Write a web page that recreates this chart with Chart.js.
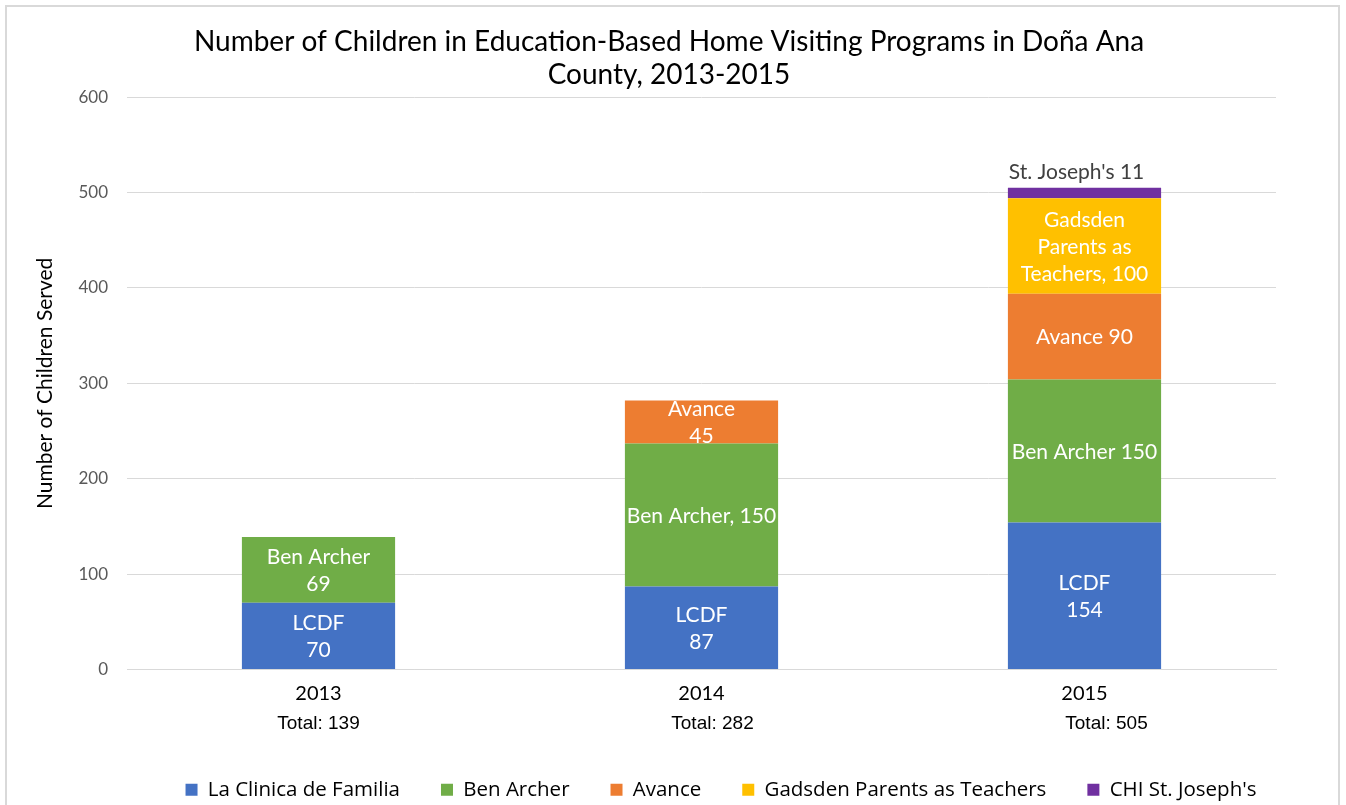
<!DOCTYPE html>
<html>
<head>
<meta charset="utf-8">
<script src="https://cdn.jsdelivr.net/npm/chart.js"></script>
<style>
  html, body { margin: 0; padding: 0; background: #fff; overflow: hidden; }
  #wrap { position: absolute; left: 0; top: 0; width: 1346px; height: 810px; }
  #frame { position: absolute; left: 5px; top: 5px; width: 1335px; height: 830px;
           border: 2px solid #d9d9d9; box-sizing: border-box; pointer-events: none; }
</style>
</head>
<body>
<div id="wrap"><canvas id="chart" width="1346" height="810"></canvas></div>
<div id="frame"></div>
<script>
// data
const years = ['2013', '2014', '2015'];
const lcdf = [70, 87, 154];
const benArcher = [69, 150, 150];
const avance = [0, 45, 90];
const gadsden = [0, 0, 100];
const stJoseph = [0, 0, 11];

const seriesNames = ['La Clinica de Familia', 'Ben Archer', 'Avance', 'Gadsden Parents as Teachers', "CHI St. Joseph's"];
const colors = ['#4472C4', '#70AD47', '#ED7D31', '#FFC000', '#7030A0'];

// text written on the bars, per series, per year
const barText = [
  [v => ['LCDF', v], v => ['LCDF', v], v => ['LCDF', v]],
  [v => ['Ben Archer', v], v => ['Ben Archer, ' + v], v => ['Ben Archer ' + v]],
  [null, v => ['Avance', v], v => ['Avance ' + v]],
  [null, null, v => ['Gadsden', 'Parents as', 'Teachers, ' + v]],
  [null, null, v => ["St. Joseph's " + v]]
];

const FONT = 'Lato, "Open Sans", sans-serif';
const allSeries = [lcdf, benArcher, avance, gadsden, stJoseph];

const barLabels = {
  id: 'barLabels',
  afterDatasetsDraw(chart) {
    const ctx = chart.ctx;
    ctx.save();
    ctx.textAlign = 'center';
    ctx.textBaseline = 'middle';
    ctx.font = '21px ' + FONT;
    chart.data.datasets.forEach((ds, i) => {
      const meta = chart.getDatasetMeta(i);
      meta.data.forEach((bar, j) => {
        const v = ds.data[j];
        const fn = barText[i][j];
        if (!v || !fn) return;
        const lines = fn(v);
        const lh = 27;
        let cy, cx = bar.x;
        if (i === 4) {
          // small top segment: label sits above the bar
          ctx.fillStyle = '#404040';
          cy = bar.y - 16;
          cx = bar.x - 8;
        } else {
          ctx.fillStyle = '#ffffff';
          cy = (bar.y + bar.base) / 2 - (lines.length - 1) * lh / 2 + 1;
        }
        lines.forEach((t, k) => ctx.fillText(String(t), cx, cy + k * lh));
      });
    });
    ctx.restore();
  }
};

const totals = {
  id: 'totals',
  afterDraw(chart) {
    const ctx = chart.ctx;
    const x = chart.scales.x;
    ctx.save();
    ctx.font = '19px "Liberation Sans", Arial, sans-serif';
    ctx.fillStyle = '#000';
    ctx.textAlign = 'center';
    ctx.textBaseline = 'middle';
    years.forEach((y, j) => {
      const sum = allSeries.reduce((a, s) => a + s[j], 0);
      ctx.fillText('Total: ' + sum, x.getPixelForValue(j) + j * 11, 724);
    });
    ctx.restore();
  }
};

const blockShift = {
  id: 'blockShift',
  afterLayout(chart) {
    chart.legend.left += 83;
    chart.legend.right += 83;
    chart.titleBlock.left += 31;
    chart.titleBlock.right += 31;
  }
};

new Chart(document.getElementById('chart'), {
  type: 'bar',
  data: {
    labels: years,
    datasets: allSeries.map((s, i) => ({
      label: seriesNames[i],
      data: s,
      backgroundColor: colors[i],
      borderWidth: 0,
      barPercentage: 0.4,
      categoryPercentage: 1
    }))
  },
  options: {
    responsive: false,
    animation: false,
    layout: { padding: { left: 0, right: 70, top: 0, bottom: 0 } },
    scales: {
      x: {
        stacked: true,
        grid: { display: false },
        border: { display: true, color: '#d9d9d9' },
        ticks: { color: '#000', font: { family: FONT, size: 20 }, padding: 4 },
        afterFit(scale) { scale.height = 69; }
      },
      y: {
        stacked: true,
        min: 0,
        max: 600,
        ticks: { stepSize: 100, color: '#595959', font: { family: FONT, size: 17 }, padding: 19 },
        grid: { color: '#d9d9d9', drawTicks: false },
        border: { display: false },
        title: {
          display: true,
          text: 'Number of Children Served',
          color: '#000',
          font: { family: FONT, size: 21 },
          padding: { top: 33, bottom: 0 }
        },
        afterFit(scale) { scale.width = 127; }
      }
    },
    plugins: {
      title: {
        display: true,
        text: ['Number of Children in Education-Based Home Visiting Programs in Doña Ana', 'County, 2013-2015'],
        color: '#000',
        font: { family: FONT, size: 28, weight: 'normal', lineHeight: 1.2 },
        padding: { top: 25, bottom: 5 }
      },
      legend: {
        position: 'bottom',
        labels: {
          color: '#000',
          boxWidth: 12,
          boxHeight: 12,
          padding: 41,
          font: { family: '"Open Sans", sans-serif', size: 20.5 }
        }
      },
      tooltip: { enabled: false }
    }
  },
  plugins: [barLabels, totals, blockShift]
});
</script>
</body>
</html>
